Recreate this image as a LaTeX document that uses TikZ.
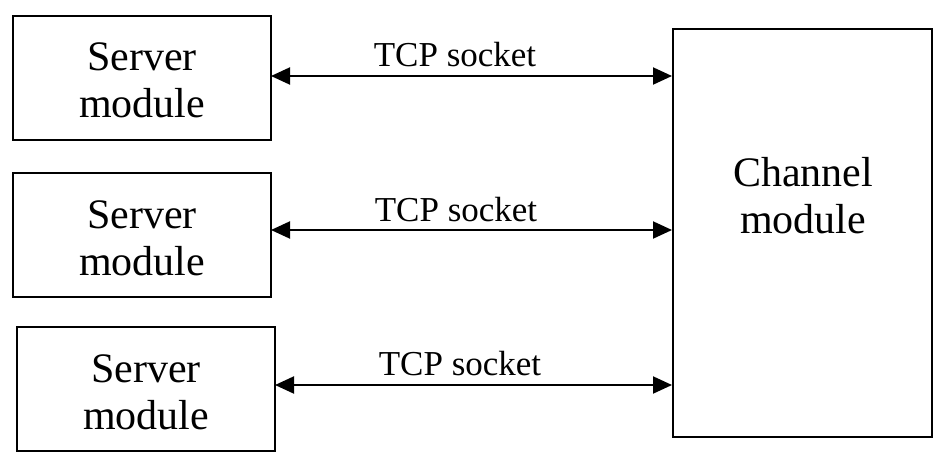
\documentclass[tikz,border=0pt]{standalone}
\usepackage{fontspec}
\setmainfont{Liberation Serif}
\usetikzlibrary{arrows.meta}
\begin{document}
\begin{tikzpicture}[x=1pt,y=-1pt,
  modbox/.style={draw,line width=2pt,rectangle,inner sep=0pt,minimum width=258pt,minimum height=124pt},
  modtext/.style={inner sep=0pt,align=center,font=\fontsize{42}{47}\selectfont},
  conn/.style={line width=2pt,{Triangle[length=19pt,width=17pt]}-{Triangle[length=19pt,width=17pt]}},
  lbl/.style={inner sep=0pt,font=\fontsize{35}{40}\selectfont}]
\useasboundingbox (0,0) rectangle (949,466);
\node[modbox] (b1) at (142,77.5) {};
\node[modtext] (b1t) at (142,80) {Server\\module};
\node[modbox] (b2) at (142,235) {};
\node[modtext] (b2t) at (142,238) {Server\\module};
\node[modbox] (b3) at (146,389) {};
\node[modtext] (b3t) at (146,392) {Server\\module};
\node[draw,line width=2pt,rectangle,inner sep=0pt,minimum width=259pt,minimum height=408pt] (ch) at (802.5,233) {};
\node[modtext] (cht) at (803,196) {Channel\\module};
\coordinate (e1) at (271,76);
\coordinate (e2) at (271,230);
\coordinate (e3) at (275,385);
\draw[conn] (e1) -- (e1 -| ch.west);
\draw[conn] (e2) -- (e2 -| ch.west);
\draw[conn] (e3) -- (e3 -| ch.west);
\node[lbl] (t1) at (455,55) {TCP socket};
\node[lbl] (t2) at (456,210) {TCP socket};
\node[lbl] (t3) at (460,364) {TCP socket};
\end{tikzpicture}
\end{document}
